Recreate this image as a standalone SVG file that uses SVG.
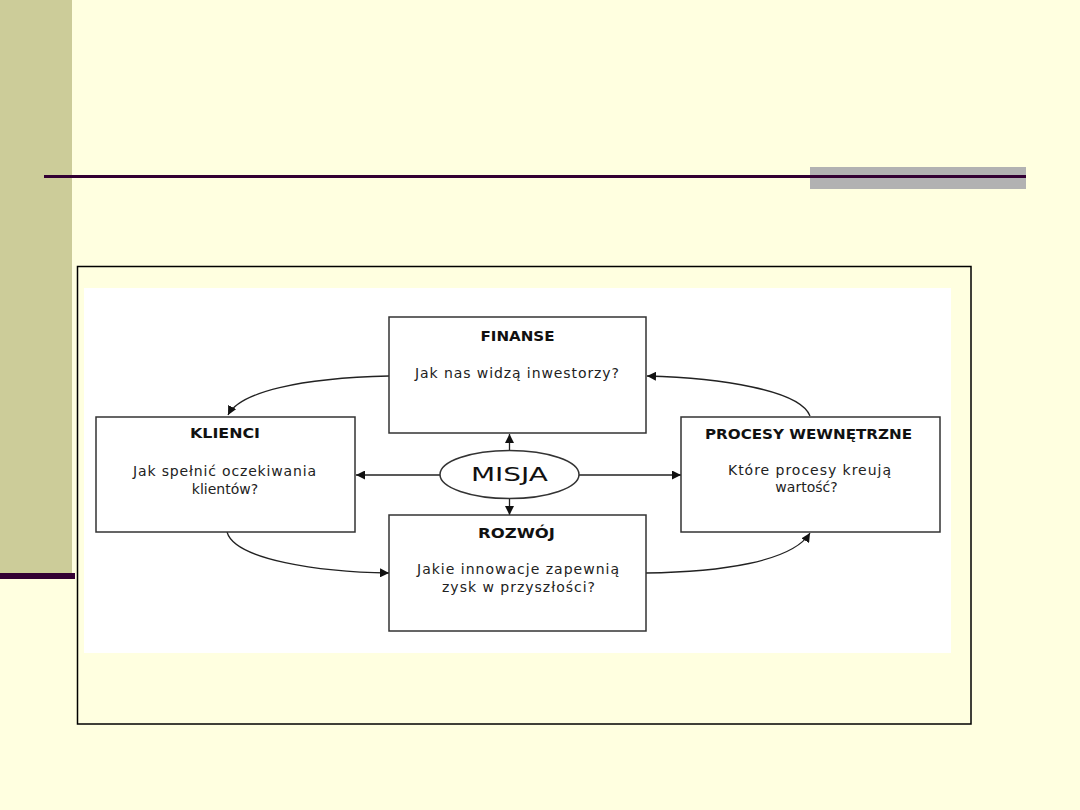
<svg xmlns="http://www.w3.org/2000/svg" width="1080" height="810" viewBox="0 0 1080 810">
<style>
.box{fill:#fff;stroke:#333;stroke-width:1.5}
.t{font-family:"DejaVu Sans",Verdana,sans-serif;font-size:14px;font-weight:bold;fill:#111;text-anchor:middle}
.b{font-family:"DejaVu Sans",Verdana,sans-serif;font-size:14px;fill:#222;text-anchor:middle}
.c{fill:none;stroke:#222;stroke-width:1.3}
</style>
<defs>
<marker id="ah" viewBox="0 0 10 10" refX="10" refY="5" markerWidth="9" markerHeight="9" markerUnits="userSpaceOnUse" orient="auto">
<path d="M0,0 L10,5 L0,10 z" fill="#111"/>
</marker>
</defs>
<rect width="1080" height="810" fill="#FFFFE0"/>
<rect x="0" y="0" width="72" height="573" fill="#CCCC99"/>
<rect x="0" y="573" width="75" height="6" fill="#330033"/>
<rect x="810" y="167" width="216" height="22" fill="#B2B2B2"/>
<rect x="44" y="175" width="982" height="3" fill="#330033"/>
<rect x="77.5" y="266.5" width="893.5" height="457.5" fill="none" stroke="#000" stroke-width="1.5"/>
<rect x="84" y="288" width="867" height="365" fill="#fff"/>
<g id="connectors">
<path class="c" d="M389,376 C300,378 240,392 228,415" marker-end="url(#ah)"/>
<path class="c" d="M810,416 C800,390 720,378 647,376" marker-end="url(#ah)"/>
<path class="c" d="M227,532 C235,560 320,572 389,573" marker-end="url(#ah)"/>
<path class="c" d="M646,573 C720,572 792,562 810,533" marker-end="url(#ah)"/>
<line class="c" x1="509.5" y1="451" x2="509.5" y2="434" marker-end="url(#ah)"/>
<line class="c" x1="509.5" y1="498" x2="509.5" y2="515" marker-end="url(#ah)"/>
<line class="c" x1="440" y1="475" x2="356" y2="475" marker-end="url(#ah)"/>
<line class="c" x1="579" y1="475" x2="681" y2="475" marker-end="url(#ah)"/>
</g>
<g id="finanse">
<rect class="box" x="389" y="317" width="257" height="116"/>
<text class="t" x="517.5" y="341" textLength="74" lengthAdjust="spacingAndGlyphs">FINANSE</text>
<text class="b" x="517" y="378" textLength="204" lengthAdjust="spacing">Jak nas widzą inwestorzy?</text>
</g>
<g id="klienci">
<rect class="box" x="96" y="417" width="259" height="115"/>
<text class="t" x="225" y="438" textLength="70" lengthAdjust="spacingAndGlyphs">KLIENCI</text>
<text class="b" x="224.5" y="476" textLength="183" lengthAdjust="spacing">Jak spełnić oczekiwania</text>
<text class="b" x="225" y="494">klientów?</text>
</g>
<g id="procesy">
<rect class="box" x="681" y="417" width="259" height="115"/>
<text class="t" x="808.5" y="439" textLength="207" lengthAdjust="spacingAndGlyphs">PROCESY WEWNĘTRZNE</text>
<text class="b" x="809.5" y="475" textLength="163" lengthAdjust="spacing">Które procesy kreują</text>
<text class="b" x="806.5" y="492">wartość?</text>
</g>
<g id="rozwoj">
<rect class="box" x="389" y="515" width="257" height="116"/>
<text class="t" x="516.5" y="538" textLength="77" lengthAdjust="spacingAndGlyphs">ROZWÓJ</text>
<text class="b" x="518" y="574" textLength="202" lengthAdjust="spacing">Jakie innowacje zapewnią</text>
<text class="b" x="518.5" y="592" textLength="153" lengthAdjust="spacing">zysk w przyszłości?</text>
</g>
<g id="misja">
<ellipse cx="509.5" cy="474.5" rx="69.5" ry="24" fill="#fff" stroke="#333" stroke-width="1.5"/>
<text x="509.5" y="481" font-family="DejaVu Sans, Verdana, sans-serif" font-size="20" fill="#111" text-anchor="middle" textLength="77" lengthAdjust="spacingAndGlyphs">MISJA</text>
</g>
</svg>
